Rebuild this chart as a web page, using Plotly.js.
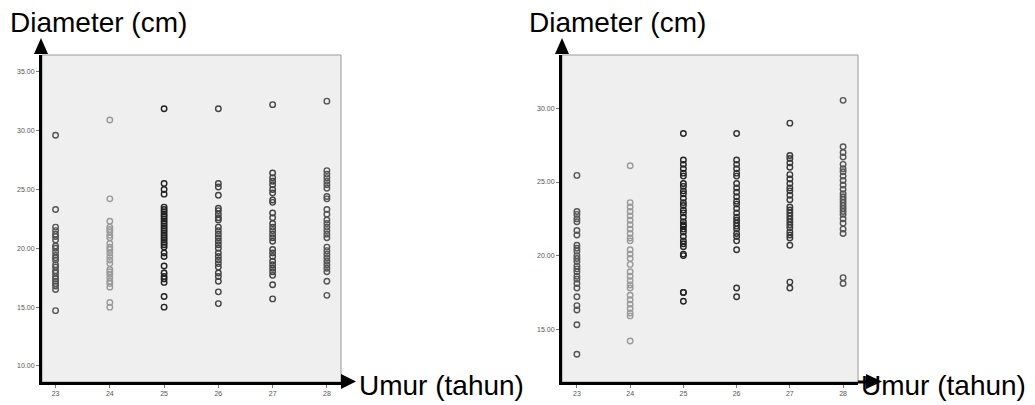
<!DOCTYPE html>
<html>
<head>
<meta charset="utf-8">
<script src="https://cdn.plot.ly/plotly-3.0.1.min.js"></script>
<style>html,body{margin:0;padding:0;background:#fff;}#chart{width:1035px;height:405px;}</style>
</head>
<body>
<div id="chart"></div>
<script>
// Categories (Umur, tahun)
const ages = [23, 24, 25, 26, 27, 28];
const xTickLabels = ['23', '24', '25', '26', '27', '28'];

// Left panel: Diameter (cm) per age
const left23 = [29.6, 23.3, 21.8, 21.5, 21.2, 21.0, 20.7, 20.2, 20.0, 19.7, 19.4, 19.2, 19.0, 18.6, 18.4, 18.1, 17.9, 17.6, 17.4, 17.2, 17.0, 16.8, 16.5, 14.7];
const left24 = [30.9, 24.2, 22.3, 21.8, 21.6, 21.4, 21.1, 20.9, 20.4, 20.1, 19.9, 19.6, 19.3, 19.0, 18.7, 18.2, 18.0, 17.8, 17.5, 17.2, 17.0, 16.7, 15.4, 15.0];
const left25 = [31.85, 25.5, 25.0, 24.6, 23.5, 23.3, 23.1, 22.9, 22.7, 22.5, 22.3, 22.1, 21.9, 21.7, 21.5, 21.3, 21.1, 20.9, 20.7, 20.5, 20.3, 20.1, 19.6, 19.3, 18.5, 17.9, 17.6, 17.4, 17.1, 15.9, 15.0];
const left26 = [31.85, 25.5, 25.2, 24.5, 23.4, 23.2, 22.9, 22.6, 22.4, 21.8, 21.5, 21.2, 20.9, 20.6, 20.3, 20.0, 19.6, 19.3, 19.0, 18.7, 18.4, 17.9, 17.6, 17.2, 16.3, 15.3];
const left27 = [32.2, 26.4, 26.0, 25.7, 25.4, 25.0, 24.7, 24.1, 23.9, 23.0, 22.6, 22.1, 21.8, 21.5, 21.2, 20.9, 20.6, 19.9, 19.6, 19.3, 18.9, 18.6, 18.3, 18.0, 17.7, 16.9, 15.7];
const left28 = [32.5, 26.6, 26.3, 26.0, 25.7, 25.4, 25.1, 24.4, 24.2, 23.3, 22.9, 22.4, 22.1, 21.8, 21.5, 21.2, 20.9, 20.1, 19.8, 19.5, 19.2, 18.9, 18.6, 18.3, 18.0, 17.2, 16.0];

// Right panel: Diameter (cm) per age
const right23 = [25.45, 23.0, 22.8, 22.5, 22.3, 21.7, 21.4, 20.7, 20.5, 20.3, 20.0, 19.8, 19.6, 19.3, 19.1, 18.9, 18.6, 18.4, 18.1, 17.8, 17.2, 16.6, 16.3, 15.3, 13.3];
const right24 = [26.1, 23.6, 23.3, 23.0, 22.7, 22.4, 22.1, 21.8, 21.5, 21.2, 21.0, 20.4, 20.1, 19.8, 19.4, 18.9, 18.6, 18.3, 18.0, 17.8, 17.3, 17.0, 16.7, 16.4, 16.1, 15.9, 14.2];
const right25 = [28.3, 26.5, 26.2, 25.9, 25.6, 25.4, 24.9, 24.7, 24.4, 24.2, 23.9, 23.6, 23.4, 23.1, 22.9, 22.6, 22.3, 22.1, 22.0, 21.8, 21.6, 21.3, 21.0, 20.8, 20.6, 20.1, 20.0, 17.5, 17.5, 16.9];
const right26 = [28.3, 26.5, 26.2, 25.9, 25.6, 25.4, 24.9, 24.6, 24.3, 24.0, 23.7, 23.5, 23.2, 22.9, 22.6, 22.4, 22.2, 22.0, 21.8, 21.5, 21.3, 21.0, 20.4, 17.8, 17.2];
const right27 = [29.0, 26.8, 26.6, 26.3, 26.0, 25.5, 25.2, 24.9, 24.6, 24.4, 24.1, 23.8, 23.3, 23.1, 22.9, 22.7, 22.5, 22.3, 22.1, 21.9, 21.6, 21.4, 21.2, 20.7, 18.2, 17.8];
const right28 = [30.55, 27.4, 27.0, 26.7, 26.2, 25.9, 25.7, 25.4, 25.1, 24.8, 24.5, 24.2, 24.0, 23.8, 23.6, 23.4, 23.2, 23.0, 22.8, 22.5, 22.2, 21.8, 21.5, 18.5, 18.1];

const yTicksLeft = [10, 15, 20, 25, 30, 35];
const yTicksRight = [15, 20, 25, 30];

const leftSeries = [left23, left24, left25, left26, left27, left28];
const rightSeries = [right23, right24, right25, right26, right27, right28];
const leftColors = ['#555555', '#9a9a9a', '#222222', '#444444', '#444444', '#555555'];
const rightColors = ['#555555', '#9a9a9a', '#222222', '#333333', '#3a3a3a', '#555555'];

const W = 1035, H = 405;
const px = x => x / W;
const py = y => 1 - y / H;

const traces = [];
function addPanel(series, colors, xa, ya) {
  series.forEach((vals, i) => {
    traces.push({
      type: 'scatter', mode: 'markers',
      x: vals.map(() => ages[i]), y: vals,
      xaxis: xa, yaxis: ya,
      marker: { symbol: 'circle-open', size: 5.5, color: colors[i], line: { width: 1.4, color: colors[i] } },
      hoverinfo: 'x+y', showlegend: false
    });
  });
}
addPanel(leftSeries, leftColors, 'x', 'y');
addPanel(rightSeries, rightColors, 'x2', 'y2');

const tickFont = { family: 'Liberation Sans, Arial, sans-serif', size: 7, color: '#555' };
const yDom = [py(382), py(55)];
function xAxis(dom, range, anchor) {
  return {
    domain: dom, range: range, anchor: anchor,
    tickvals: ages, ticktext: xTickLabels,
    ticks: 'outside', ticklen: 3, tickcolor: '#777', tickwidth: 1,
    tickfont: tickFont, showgrid: false, zeroline: false,
    showline: true, linecolor: '#000', linewidth: 3, fixedrange: true
  };
}
function yAxis(range, ticks, anchor) {
  return {
    domain: yDom, range: range, anchor: anchor,
    tickvals: ticks, tickformat: '.2f',
    ticks: 'outside', ticklen: 3, tickcolor: '#777', tickwidth: 1,
    tickfont: tickFont, showgrid: false, zeroline: false,
    showline: true, linecolor: '#000', linewidth: 3, fixedrange: true
  };
}

const titleFont = { family: 'Liberation Sans, Arial, sans-serif', size: 28, color: '#000' };
const annotations = [
  { text: 'Diameter (cm)', xref: 'paper', yref: 'paper', x: px(8), y: py(22), xanchor: 'left', yanchor: 'middle', showarrow: false, font: titleFont },
  { text: 'Diameter (cm)', xref: 'paper', yref: 'paper', x: px(527), y: py(22), xanchor: 'left', yanchor: 'middle', showarrow: false, font: titleFont },
  { text: 'Umur (tahun)', xref: 'paper', yref: 'paper', x: px(357), y: py(385), xanchor: 'left', yanchor: 'middle', showarrow: false, font: titleFont },
  { text: 'Umur (tahun)', xref: 'paper', yref: 'paper', x: px(859), y: py(385), xanchor: 'left', yanchor: 'middle', showarrow: false, font: titleFont }
];

function tri(points) {
  return 'M' + points.map(p => px(p[0]) + ',' + py(p[1])).join(' L') + ' Z';
}
const shapes = [
  // gray frame for plot areas
  { type: 'rect', xref: 'x domain', yref: 'y domain', x0: 0, x1: 1, y0: 0, y1: 1, line: { color: '#999', width: 1 }, layer: 'below' },
  { type: 'rect', xref: 'x2 domain', yref: 'y2 domain', x0: 0, x1: 1, y0: 0, y1: 1, line: { color: '#999', width: 1 }, layer: 'below' },
  // arrow heads (axis decorations)
  { type: 'path', xref: 'paper', yref: 'paper', path: tri([[34, 54], [48, 54], [41, 38]]), fillcolor: '#000', line: { width: 0 } },
  { type: 'path', xref: 'paper', yref: 'paper', path: tri([[341, 374], [341, 389], [356, 381.5]]), fillcolor: '#000', line: { width: 0 } },
  { type: 'path', xref: 'paper', yref: 'paper', path: tri([[555, 54], [569, 54], [562, 38]]), fillcolor: '#000', line: { width: 0 } },
  { type: 'line', xref: 'paper', yref: 'paper', x0: px(858), x1: px(867), y0: py(382), y1: py(382), line: { color: '#000', width: 3 } },
  { type: 'path', xref: 'paper', yref: 'paper', path: tri([[866, 374], [866, 389], [882, 381.5]]), fillcolor: '#000', line: { width: 0 } }
];

const layout = {
  width: W, height: H,
  margin: { l: 0, r: 0, t: 0, b: 0 },
  paper_bgcolor: '#ffffff', plot_bgcolor: '#efefef',
  showlegend: false,
  xaxis: xAxis([px(42), px(341)], [22.75, 28.26], 'y'),
  yaxis: yAxis([8.64, 36.42], yTicksLeft, 'x'),
  xaxis2: xAxis([px(562), px(858)], [22.72, 28.28], 'y2'),
  yaxis2: yAxis([11.41, 33.63], yTicksRight, 'x2'),
  annotations: annotations,
  shapes: shapes
};

Plotly.newPlot('chart', traces, layout, { displayModeBar: false, staticPlot: true });
</script>
</body>
</html>
